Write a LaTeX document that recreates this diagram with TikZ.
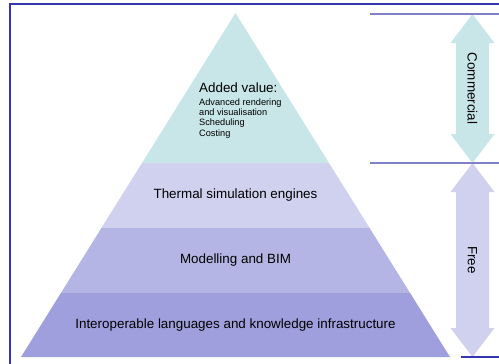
\documentclass[tikz,border=0pt]{standalone}
\usepackage{fontspec}
\setmainfont{Liberation Sans}
\usetikzlibrary{positioning}

\definecolor{tealtier}{HTML}{C8E5E7}
\definecolor{thermaltier}{HTML}{D0D0EF}
\definecolor{modeltier}{HTML}{B5B5E5}
\definecolor{basetier}{HTML}{A09FDD}
\definecolor{splitline}{HTML}{8080C8}
\definecolor{framecol}{HTML}{3535B0}

\begin{document}
\begin{tikzpicture}[
    x=1pt, y=-1pt,
    tier/.style={
        draw=none,
    },
    tierlabel/.style={
        font=\fontsize{13.4}{16}\selectfont,
        inner sep=0pt,
    },
    smalllist/.style={
        font=\fontsize{9.2}{10.4}\selectfont,
        align=left,
        inner sep=0pt,
        anchor=north west,
    },
    sidelabel/.style={
        font=\fontsize{13.4}{16}\selectfont,
        inner sep=0pt,
        rotate=-90,
    },
    divider/.style={
        draw=splitline,
        line width=1.5pt,
    }
]
    \useasboundingbox (0,0) rectangle (499,364);

    % Frame
    \draw[draw=framecol, line width=1.5pt] (499,4) -- (10,4) -- (10,364);

    % Pyramid tiers
    \fill[tier, tealtier] (235.5,13) -- (329.0,163) -- (142.0,163) -- cycle;
    \fill[tier, thermaltier] (142.0,163) -- (329.0,163) -- (369.6,228) -- (101.4,228) -- cycle;
    \fill[tier, modeltier] (101.4,228) -- (369.6,228) -- (410.1,293) -- (60.9,293) -- cycle;
    \fill[tier, basetier] (60.9,293) -- (410.1,293) -- (450,357) -- (21,357) -- cycle;

    % Tier labels
    \node[tierlabel, anchor=base west] (added) at (199,92.7) {Added value:};
    \node[smalllist] (addlist) at (199,98.2)
        {Advanced rendering\\and visualisation\\Scheduling\\Costing};
    \node[tierlabel] (thermal) at (235.5,195.5) {Thermal simulation engines};
    \node[tierlabel] (modelling) at (235.5,260.5) {Modelling and BIM};
    \node[tierlabel] (interop) at (235.5,325) {Interoperable languages and knowledge infrastructure};

    % Side arrows
    \fill[tealtier] (472.5,14) -- (494.5,43) -- (489,43) -- (489,134) -- (494.5,134)
        -- (472.5,163) -- (450.5,134) -- (456,134) -- (456,43) -- (450.5,43) -- cycle;
    \fill[thermaltier] (472.5,163) -- (494.5,192) -- (489,192) -- (489,328) -- (494.5,328)
        -- (472.5,357) -- (450.5,328) -- (456,328) -- (456,192) -- (450.5,192) -- cycle;

    \node[sidelabel] (commercial) at (472.5,88.5) {Commercial};
    \node[sidelabel] (free) at (472.5,260) {Free};

    % Dividers
    \draw[divider] (370,14) -- (499,14);
    \draw[divider] (370,163) -- (499,163);
    \draw[draw=framecol, line width=2pt] (460.5,357) -- (499,357);
\end{tikzpicture}
\end{document}
